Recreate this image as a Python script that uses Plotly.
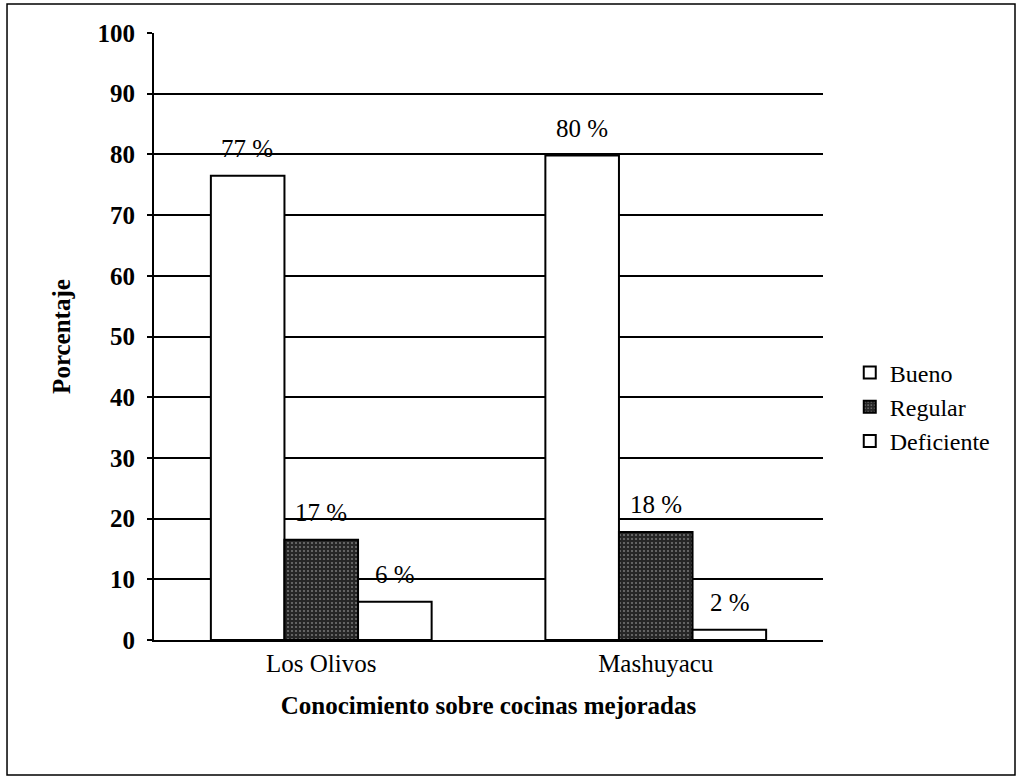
import plotly.graph_objects as go

categories = ["Los Olivos", "Mashuyacu"]
series_names = ["Bueno", "Regular", "Deficiente"]
bueno = [76.5, 79.8]
regular = [16.5, 17.8]
deficiente = [6.3, 1.7]
labels_bueno = ["77 %", "80 %"]
labels_regular = ["17 %", "18 %"]
labels_deficiente = ["6 %", "2 %"]
y_ticks = list(range(0, 101, 10))

FONT = "Liberation Serif, Times New Roman, serif"
FS = 25

fig = go.Figure()
fig.add_trace(go.Bar(
    name="Bueno", x=categories, y=bueno,
    marker=dict(color="white", line=dict(color="black", width=2)),
))
fig.add_trace(go.Bar(
    name="Regular", x=categories, y=regular,
    marker=dict(color="#262626", line=dict(color="black", width=2),
                pattern=dict(shape=".", fgcolor="#bdbdbd", bgcolor="#262626",
                             size=4, solidity=0.22, fillmode="overlay")),
))
fig.add_trace(go.Bar(
    name="Deficiente", x=categories, y=deficiente,
    marker=dict(color="white", line=dict(color="black", width=2)),
))

# data labels
for vals, labs, shift in [(bueno, labels_bueno, -74), (regular, labels_regular, 0),
                          (deficiente, labels_deficiente, 74)]:
    for c, v, t in zip(categories, vals, labs):
        fig.add_annotation(x=c, y=v, text=t, showarrow=False, xref="x", yref="y",
                           xshift=shift, yshift=27,
                           font=dict(family=FONT, size=FS, color="black"))

# outer border
fig.add_shape(type="rect", xref="paper", yref="paper",
              x0=-0.2197, x1=1.2870, y0=-0.2224, y1=1.0478,
              line=dict(color="black", width=1.5), fillcolor="rgba(0,0,0,0)")

fig.update_layout(
    width=1019, height=777,
    margin=dict(l=154, r=196, t=33, b=137, autoexpand=False),
    paper_bgcolor="white", plot_bgcolor="white",
    barmode="group", bargap=0.34, bargroupgap=0,
    font=dict(family=FONT, color="black", size=FS),
    showlegend=True,
    legend=dict(x=1.04, y=0.384, xanchor="left", yanchor="middle",
                font=dict(family=FONT, size=24, color="black"),
                bgcolor="rgba(0,0,0,0)", itemwidth=30, tracegroupgap=0),
    xaxis=dict(
        title=dict(text="<b>Conocimiento sobre cocinas mejoradas</b>",
                   font=dict(family=FONT, size=FS), standoff=20),
        tickfont=dict(family=FONT, size=FS), showgrid=False,
        showline=True, linecolor="black", linewidth=2, ticks="",
    ),
    yaxis=dict(
        title=dict(text="<b>Porcentaje</b>", font=dict(family=FONT, size=FS), standoff=20),
        range=[0, 100], tickvals=y_ticks, ticktext=[f"<b>{v}</b>" for v in y_ticks],
        tickfont=dict(family=FONT, size=FS), ticklabelstandoff=7,
        showgrid=True, gridcolor="black", gridwidth=1.5,
        showline=True, linecolor="black", linewidth=2,
        ticks="outside", ticklen=5, tickcolor="black", tickwidth=1.5,
        zeroline=False,
    ),
)

fig.write_html("out.html", config={"displayModeBar": False},
               post_script="document.body.style.margin='0px';")
